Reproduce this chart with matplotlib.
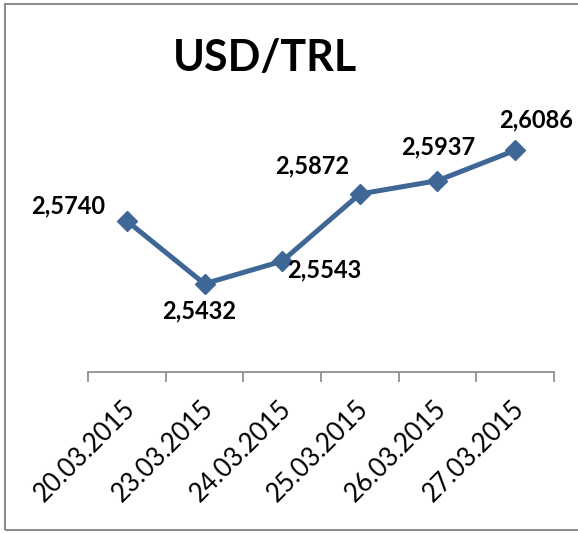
"""USD/TRL daily rate, 20-27 March 2015."""

import matplotlib

matplotlib.use("Agg")

import matplotlib.pyplot as plt
from matplotlib.patches import Rectangle
from matplotlib.transforms import ScaledTranslation

plt.rcParams["font.family"] = ["Lato", "DejaVu Sans"]

dates = ["20.03.2015", "23.03.2015", "24.03.2015", "25.03.2015", "26.03.2015", "27.03.2015"]
rates = [2.5740, 2.5432, 2.5543, 2.5872, 2.5937, 2.6086]

# label offsets in pixels (dx, dy) from each point
label_offsets = [(-59, 15), (-5, -27), (42, -9), (-48, 28), (1, 34), (21, 30)]

LINE_COLOR = "#3F6796"
AXIS_COLOR = "#898989"

fig = plt.figure(figsize=(5.78, 5.33), dpi=100)
ax = fig.add_axes([88 / 578, 1 - 372 / 533, (554 - 88) / 578, (372 - 127) / 533])

x = list(range(len(dates)))
ax.plot(
    x,
    rates,
    color=LINE_COLOR,
    linewidth=3.6,
    marker="D",
    markersize=10.5,
    markeredgecolor=LINE_COLOR,
    zorder=3,
)

for xi, value, (dx, dy) in zip(x, rates, label_offsets):
    ax.annotate(
        f"{value:.4f}".replace(".", ","),
        xy=(xi, value),
        xytext=(dx, dy),
        textcoords="offset pixels",
        ha="center",
        va="center",
        fontsize=17,
        fontweight="bold",
        color="black",
        zorder=4,
    )

ax.set_xlim(-0.5, len(dates) - 0.5)
ax.set_ylim(2.50, 2.62)

for side in ("left", "right", "top"):
    ax.spines[side].set_visible(False)
ax.spines["bottom"].set_color(AXIS_COLOR)
ax.spines["bottom"].set_linewidth(1.2)

ax.set_yticks([])
ax.set_xticks(x)
ax.set_xticklabels(dates, rotation=45, ha="right", va="top", rotation_mode="anchor", fontsize=18.5)
ax.tick_params(axis="x", which="major", length=0, pad=17)
shift = ScaledTranslation(-4 / 100, 0, fig.dpi_scale_trans)
for label in ax.get_xticklabels():
    label.set_transform(label.get_transform() + shift)
ax.set_xticks([i - 0.5 for i in range(len(dates) + 1)], minor=True)
ax.tick_params(axis="x", which="minor", length=7, width=1.2, color=AXIS_COLOR, direction="out")

fig.text(265 / 578, 1 - 58 / 533, "USD/TRL", ha="center", va="center", fontsize=31, fontweight="bold")

# chart frame, right edge runs past the image
fig.patches.append(
    Rectangle(
        (5 / 578, 3 / 533),
        1.2,
        (529 - 3) / 533,
        transform=fig.transFigure,
        fill=False,
        edgecolor="#8c8c8c",
        linewidth=1.5,
    )
)

fig.savefig("out.png", dpi=100)
